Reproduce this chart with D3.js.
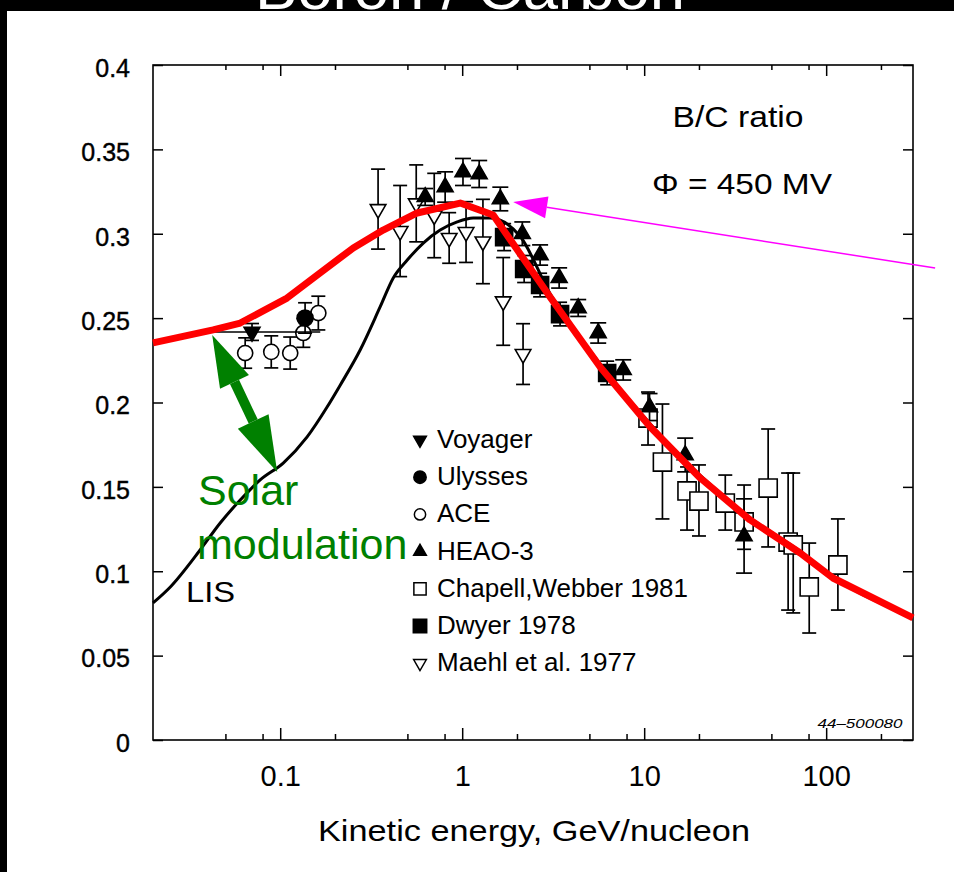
<!DOCTYPE html>
<html><head><meta charset="utf-8">
<script src="https://cdn.jsdelivr.net/npm/d3@7"></script>
<style>body{margin:0;background:#000;} svg{display:block;}</style>
</head><body>
<svg id="c" width="954" height="872"></svg>
<script>
// ---------- data ----------
const yTickValues = [0, 0.05, 0.1, 0.15, 0.2, 0.25, 0.3, 0.35, 0.4];
const yTickLabels = ["0", "0.05", "0.1", "0.15", "0.2", "0.25", "0.3", "0.35", "0.4"];
const xMajorTicks = [0.1, 1, 10, 100];
const xTickLabels = ["0.1", "1", "10", "100"];
const xMinorTicks = [0.05, 0.08, 0.2, 0.5, 0.8, 2, 5, 8, 20, 50, 80, 200];

// modulated B/C (Phi = 450 MV), red
const modE  = [0.02, 0.0428, 0.0603, 0.109, 0.16, 0.252, 0.368, 0.566, 0.975, 1.48, 3.04, 5.73, 10.8, 20.3, 38.2, 72, 109, 300];
const modBC = [0.2353, 0.243, 0.2471, 0.2619, 0.2756, 0.2916, 0.3022, 0.3123, 0.3182, 0.3111, 0.2625, 0.221, 0.1855, 0.1553, 0.1304, 0.1108, 0.096, 0.0723];

// local interstellar spectrum, black
const lisE  = [0.02, 0.0249, 0.0363, 0.0468, 0.0603, 0.0776, 0.1039, 0.1406, 0.181, 0.214, 0.275, 0.354, 0.418, 0.499, 0.611, 0.757, 0.939, 1.149, 1.425, 2.08, 3.04, 5.73, 10.8, 20.3, 38.2, 72, 109, 300];
const lisBC = [0.0812, 0.0907, 0.1126, 0.1286, 0.1422, 0.1541, 0.1641, 0.1796, 0.1973, 0.2104, 0.2311, 0.2566, 0.2738, 0.2844, 0.2945, 0.3022, 0.307, 0.3093, 0.3093, 0.2985, 0.2645, 0.2228, 0.1873, 0.1568, 0.1316, 0.1118, 0.0968, 0.0728];

// Voyager (filled down-triangle)
const voyagerE = [0.070], voyagerBC = [0.2418], voyagerErr = [0.005], voyagerElo = [0.043], voyagerEhi = [0.166];
// Ulysses (filled circle)
const ulyssesE = [0.137], ulyssesBC = [0.2501], ulyssesErr = [0.009];
// ACE (open circle)
const aceE   = [0.0642, 0.0893, 0.1135, 0.134, 0.162];
const aceBC  = [0.2293, 0.230, 0.2293, 0.2412, 0.253];
const aceErr = [0.009, 0.0095, 0.0095, 0.0085, 0.010];
// HEAO-3 (filled up-triangle)
const heaoE   = [0.626, 0.806, 1.01, 1.24, 1.62, 2.14, 2.68, 3.41, 4.34, 5.59, 7.67, 10.7, 16.8, 35.4];
const heaoBC  = [0.3218, 0.3277, 0.3366, 0.3354, 0.3206, 0.300, 0.2874, 0.2738, 0.256, 0.2412, 0.2193, 0.1973, 0.1689, 0.1209];
const heaoErr = [0.005, 0.009, 0.008, 0.008, 0.007, 0.007, 0.006, 0.006, 0.005, 0.006, 0.006, 0.008, 0.010, 0.022];
// Chapell, Webber 1981 (open square)
const chapellE    = [10.5, 12.6, 17.2, 20.0, 27.9, 35.4, 48.0, 61.8, 65.9, 80.7, 116];
const chapellBC   = [0.1908, 0.1647, 0.1476, 0.1416, 0.1404, 0.1292, 0.1493, 0.1173, 0.1156, 0.0907, 0.1037];
const chapellErrHi = [0.2062, 0.1991, 0.1618, 0.163, 0.157, 0.1511, 0.1843, 0.1582, 0.1582, 0.1167, 0.131];
const chapellErrLo = [0.1748, 0.131, 0.1244, 0.1209, 0.1244, 0.113, 0.1144, 0.077, 0.0753, 0.0634, 0.077];
// Dwyer 1978 (filled square)
const dwyerE   = [1.70, 2.19, 2.68, 3.45, 6.26];
const dwyerBC  = [0.298, 0.2791, 0.2696, 0.2524, 0.2175];
const dwyerErr = [0.008, 0.008, 0.007, 0.007, 0.007];
// Maehl et al. 1977 (open down-triangle)
const maehlE   = [0.345, 0.456, 0.559, 0.702, 0.848, 1.05, 1.30, 1.68, 2.16];
const maehlBC  = [0.3146, 0.3016, 0.318, 0.3108, 0.2975, 0.301, 0.2954, 0.2599, 0.2287];
const maehlErr = [0.0237, 0.027, 0.0228, 0.025, 0.015, 0.018, 0.025, 0.026, 0.018];

const legendLabels = ["Voyager", "Ulysses", "ACE", "HEAO-3", "Chapell,Webber 1981", "Dwyer 1978", "Maehl et al. 1977"];

// annotation anchor points (data coords)
const greenArrowE = [0.0423, 0.0963], greenArrowBC = [0.24, 0.1588];
const magentaArrowE = [1.906, 397], magentaArrowBC = [0.3188, 0.2797];

// ---------- drawing ----------
const FONT = "'Liberation Sans', Arial, Helvetica, sans-serif";
const svg = d3.select("#c");
svg.append("rect").attr("width", 954).attr("height", 872).attr("fill", "#000");
svg.append("text").attr("x", 470).attr("y", 9).attr("text-anchor", "middle")
  .attr("font-family", FONT).attr("font-size", 60).attr("fill", "#fff")
  .attr("textLength", 430).attr("lengthAdjust", "spacingAndGlyphs").text("Boron / Carbon");
svg.append("rect").attr("x", 7).attr("y", 11).attr("width", 947).attr("height", 861).attr("fill", "#fff");

const x = d3.scaleLog().domain([0.02, 300]).range([153, 913]);
const y = d3.scaleLinear().domain([0, 0.4]).range([740, 65]);

function styleAxis(g) {
  g.select(".domain").remove();
  g.selectAll("line").attr("stroke", "#000").attr("stroke-width", 1.5);
  g.attr("font-family", FONT);
  g.selectAll("text").attr("fill", "#000");
}
// left
svg.append("g").attr("transform", "translate(153,0)")
  .call(d3.axisLeft(y).tickValues(yTickValues).tickFormat((d, i) => yTickLabels[i]).tickSizeInner(-10).tickSizeOuter(0).tickPadding(23))
  .call(styleAxis).call(g => g.selectAll("text").attr("font-size", 25).attr("dy", "0.45em").attr("stroke", "#000").attr("stroke-width", 0.4));
// right
svg.append("g").attr("transform", "translate(913,0)")
  .call(d3.axisRight(y).tickValues(yTickValues).tickFormat("").tickSizeInner(-10).tickSizeOuter(0))
  .call(styleAxis);
// bottom
svg.append("g").attr("transform", "translate(0,740)")
  .call(d3.axisBottom(x).tickValues(xMajorTicks).tickFormat((d, i) => xTickLabels[i]).tickSizeInner(-12).tickSizeOuter(0).tickPadding(25))
  .call(styleAxis).call(g => g.selectAll("text").attr("font-size", 29));
svg.append("g").attr("transform", "translate(0,740)")
  .call(d3.axisBottom(x).tickValues(xMinorTicks).tickFormat("").tickSizeInner(-6).tickSizeOuter(0))
  .call(styleAxis);
// top
svg.append("g").attr("transform", "translate(0,65)")
  .call(d3.axisTop(x).tickValues(xMajorTicks).tickFormat("").tickSizeInner(-11).tickSizeOuter(0))
  .call(styleAxis);
svg.append("g").attr("transform", "translate(0,65)")
  .call(d3.axisTop(x).tickValues(xMinorTicks).tickFormat("").tickSizeInner(-5).tickSizeOuter(0))
  .call(styleAxis);
// frame
svg.append("rect").attr("x", 153).attr("y", 65).attr("width", 760).attr("height", 675)
  .attr("fill", "none").attr("stroke", "#000").attr("stroke-width", 1.6);

// axis title
svg.append("text").attr("x", 534).attr("y", 841).attr("text-anchor", "middle")
  .attr("font-family", FONT).attr("font-size", 30).attr("textLength", 432).attr("lengthAdjust", "spacingAndGlyphs")
  .text("Kinetic energy, GeV/nucleon");

// in-plot texts
svg.append("text").attr("x", 738).attr("y", 127).attr("text-anchor", "middle")
  .attr("font-family", FONT).attr("font-size", 30).attr("textLength", 131).attr("lengthAdjust", "spacingAndGlyphs").text("B/C ratio");
svg.append("text").attr("x", 742).attr("y", 194).attr("text-anchor", "middle")
  .attr("font-family", FONT).attr("font-size", 30).attr("textLength", 180).attr("lengthAdjust", "spacingAndGlyphs").text("Φ = 450 MV");
svg.append("text").attr("x", 860).attr("y", 728).attr("text-anchor", "middle")
  .attr("font-family", FONT).attr("font-size", 12).attr("font-style", "italic")
  .attr("textLength", 85).attr("lengthAdjust", "spacingAndGlyphs").text("44–500080");

// data layers
const gData = svg.append("g");
function errBars(E, V, lo, hi, cap) {
  const g = gData.append("g").attr("stroke", "#000").attr("stroke-width", 1.7);
  E.forEach((e, i) => {
    const px = x(e), y1 = y(lo[i]), y2 = y(hi[i]);
    g.append("line").attr("x1", px).attr("x2", px).attr("y1", y1).attr("y2", y2);
    g.append("line").attr("x1", px - cap).attr("x2", px + cap).attr("y1", y1).attr("y2", y1);
    g.append("line").attr("x1", px - cap).attr("x2", px + cap).attr("y1", y2).attr("y2", y2);
  });
}
const sym = (type, size) => d3.symbol().type(type).size(size)();
function markers(E, V, type, size, filled, rot) {
  const g = gData.append("g");
  E.forEach((e, i) => {
    g.append("path").attr("d", sym(type, size))
      .attr("transform", `translate(${x(e)},${y(V[i])}) rotate(${rot || 0})`)
      .attr("fill", filled ? "#000" : "#fff").attr("stroke", "#000").attr("stroke-width", 1.6);
  });
}
const sub = (V, Er) => V.map((v, i) => v - Er[i]);
const add = (V, Er) => V.map((v, i) => v + Er[i]);

// Maehl
errBars(maehlE, maehlBC, sub(maehlBC, maehlErr), add(maehlBC, maehlErr), 7);
markers(maehlE, maehlBC, d3.symbolTriangle, 105, false, 180);
// Chapell
errBars(chapellE, chapellBC, chapellErrLo, chapellErrHi, 7);
markers(chapellE, chapellBC, d3.symbolSquare, 330, false);
// Dwyer
errBars(dwyerE, dwyerBC, sub(dwyerBC, dwyerErr), add(dwyerBC, dwyerErr), 7);
markers(dwyerE, dwyerBC, d3.symbolSquare, 290, true);
// HEAO
errBars(heaoE, heaoBC, sub(heaoBC, heaoErr), add(heaoBC, heaoErr), 8);
markers(heaoE, heaoBC, d3.symbolTriangle, 110, true);
// ACE
errBars(aceE, aceBC, sub(aceBC, aceErr), add(aceBC, aceErr), 7);
markers(aceE, aceBC, d3.symbolCircle, 180, false);
// Ulysses
errBars(ulyssesE, ulyssesBC, sub(ulyssesBC, ulyssesErr), add(ulyssesBC, ulyssesErr), 7);
markers(ulyssesE, ulyssesBC, d3.symbolCircle, 200, true);
// Voyager (with energy range bar)
gData.append("line").attr("x1", x(voyagerElo[0])).attr("x2", x(voyagerEhi[0]))
  .attr("y1", y(voyagerBC[0])).attr("y2", y(voyagerBC[0])).attr("stroke", "#000").attr("stroke-width", 1.6);
errBars(voyagerE, voyagerBC, sub(voyagerBC, voyagerErr), add(voyagerBC, voyagerErr), 7);
markers(voyagerE, voyagerBC, d3.symbolTriangle, 110, true, 180);

// curves
const lisLine = d3.line().x((d, i) => x(lisE[i])).y(d => y(d)).curve(d3.curveMonotoneX);
svg.append("path").attr("d", lisLine(lisBC)).attr("fill", "none").attr("stroke", "#000").attr("stroke-width", 3);
const modLine = d3.line().x((d, i) => x(modE[i])).y(d => y(d));
svg.append("path").attr("d", modLine(modBC)).attr("fill", "none").attr("stroke", "#ff0000").attr("stroke-width", 7).attr("stroke-linejoin", "round");

// LIS label
svg.append("text").attr("x", 186).attr("y", 602).attr("font-family", FONT).attr("font-size", 30)
  .attr("textLength", 49).attr("lengthAdjust", "spacingAndGlyphs").text("LIS");

// green text
svg.append("text").attr("x", 198).attr("y", 505).attr("font-family", FONT).attr("font-size", 43).attr("fill", "#008000").text("Solar");
svg.append("text").attr("x", 197).attr("y", 559).attr("font-family", FONT).attr("font-size", 43).attr("fill", "#008000").text("modulation");

// legend
const legendTypes = [[d3.symbolTriangle, true, 180], [d3.symbolCircle, true, 0], [d3.symbolCircle, false, 0], [d3.symbolTriangle, true, 0], [d3.symbolSquare, false, 0], [d3.symbolSquare, true, 0], [d3.symbolTriangle, false, 180]];
const legendSizes = [70, 120, 100, 70, 150, 180, 70];
const gLeg = svg.append("g");
legendLabels.forEach((lab, i) => {
  const base = 448 + i * 37.2;
  const t = legendTypes[i];
  gLeg.append("path").attr("d", sym(t[0], legendSizes[i]))
    .attr("transform", `translate(420,${base - 8}) rotate(${t[2]})`)
    .attr("fill", t[1] ? "#000" : "#fff").attr("stroke", "#000").attr("stroke-width", 1.5);
  gLeg.append("text").attr("x", 437).attr("y", base).attr("font-family", FONT).attr("font-size", 26).text(lab);
});

// arrows
function head(tip, from, len, hw, color) {
  const dx = from[0] - tip[0], dy = from[1] - tip[1], L = Math.hypot(dx, dy);
  const ux = dx / L, uy = dy / L;
  const bx = tip[0] + ux * len, by = tip[1] + uy * len;
  const p = [[tip[0], tip[1]], [bx - uy * hw, by + ux * hw], [bx + uy * hw, by - ux * hw]];
  svg.append("path").attr("d", "M" + p.join("L") + "Z").attr("fill", color);
  return [bx, by];
}
// green double arrow
{
  const a = [x(greenArrowE[0]), y(greenArrowBC[0])], b = [x(greenArrowE[1]), y(greenArrowBC[1])];
  const ba = head(a, b, 52, 16, "#008000");
  const bb = head(b, a, 56, 17, "#008000");
  svg.append("line").attr("x1", ba[0]).attr("y1", ba[1]).attr("x2", bb[0]).attr("y2", bb[1])
    .attr("stroke", "#008000").attr("stroke-width", 10);
}
// magenta arrow
{
  const a = [x(magentaArrowE[0]), y(magentaArrowBC[0])], b = [x(magentaArrowE[1]), y(magentaArrowBC[1])];
  const ba = head(a, b, 34, 11, "#ff00ff");
  svg.append("line").attr("x1", ba[0]).attr("y1", ba[1]).attr("x2", b[0]).attr("y2", b[1])
    .attr("stroke", "#ff00ff").attr("stroke-width", 1.5);
}
</script>
</body></html>
